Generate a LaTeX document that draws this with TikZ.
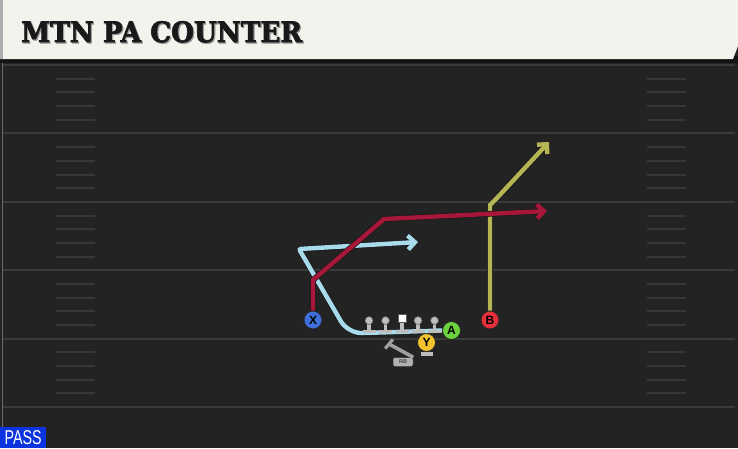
\documentclass[tikz,border=0pt]{standalone}
\usepackage{fontspec}
\setsansfont{Liberation Sans}
\newfontfamily\titlefont{DejaVu Serif}[FakeBold=2.5]
\usepackage{graphicx}
\usetikzlibrary{arrows.meta}

\definecolor{fieldbg}{HTML}{232323}
\definecolor{yardline}{HTML}{3B3B3B}
\definecolor{hashline}{HTML}{373737}
\definecolor{headbg}{HTML}{F4F2EC}
\definecolor{passblue}{HTML}{0B34E0}
\definecolor{xred}{HTML}{A6173A}
\definecolor{acyan}{HTML}{A8DCEC}
\definecolor{bolive}{HTML}{B5B653}
\definecolor{xblue}{HTML}{3F6FD8}
\definecolor{bred}{HTML}{E5303C}
\definecolor{agreen}{HTML}{6BD13C}
\definecolor{yyellow}{HTML}{F2C230}
\definecolor{olgray}{HTML}{BDBDBD}

\begin{document}
\begin{tikzpicture}[x=1pt,y=-1pt,
  player/.style={circle, draw=black!85, line width=0.8pt, minimum size=18pt,
    inner sep=0pt, font=\sffamily\bfseries\fontsize{12}{12}\selectfont},
  route/.style={line width=4.4pt, line join=miter,
    preaction={draw=black!90, line width=5.8pt},
    -{Straight Barb[length=7pt,width=14pt]}},
  lineman/.style={circle, fill=olgray, draw=gray!70!black, line width=0.5pt,
    minimum size=8pt, inner sep=0pt},
  block/.style={draw=olgray, line width=3.2pt},
  hashmark/.style={draw=hashline, line width=2pt},
]
  \useasboundingbox (0,0) rectangle (738,448);
  \fill[fieldbg] (0,0) rectangle (738,448);

  % field
  \foreach \yl in {65,133.4,201.8,270.2,338.6,407} {
    \draw[yardline, line width=2pt] (3,\yl) -- (735,\yl);
  }
  \foreach \yl in {65,133.4,201.8,270.2,338.6} {
    \foreach \k in {1,2,3,4} {
      \draw[hashmark] (56,\yl+13.7*\k) -- (95,\yl+13.7*\k);
      \draw[hashmark] (647,\yl+13.7*\k) -- (686,\yl+13.7*\k);
    }
  }
  \draw[black!70!fieldbg!60!white, line width=1pt] (2,63) -- (2,448);

  % header
  \fill[black!92] (0,56) rectangle (738,63);
  \fill[headbg] (0,0) -- (738,0) -- (738,46) -- (733,59) -- (0,59) -- cycle;
  \fill[gray!65] (0,0) rectangle (3,59);
  \node[anchor=south west, inner sep=0pt, text=gray!80] (titleshadow) at (22.2,43.9)
    {\resizebox{281pt}{21pt}{\titlefont\bfseries MTN PA COUNTER}};
  \node[anchor=south west, inner sep=0pt, text=black!90] (title) at (21,42.7)
    {\resizebox{281pt}{21pt}{\titlefont\bfseries MTN PA COUNTER}};

  % players
  \node[player, fill=xblue] (X) at (313,320) {X};
  \node[player, fill=bred] (B) at (490,320) {B};
  \node[player, fill=agreen] (A) at (451.5,330.5) {A};
  \node[player, fill=yyellow] (Y) at (426.5,342.5) {Y};

  % routes
  \coordinate (x1) at (313,280);
  \coordinate (x2) at (384,219);
  \coordinate (x3) at (547,211);
  \coordinate (a1) at (348,333.5);
  \coordinate (a2) at (299,249);
  \coordinate (a3) at (418,242);
  \coordinate (b1) at (490,205);
  \coordinate (b2) at (496,199);
  \coordinate (b3) at (549,142);

  \draw[route, draw=acyan] (A.west) [rounded corners=14pt] -- (a1)
    [rounded corners=2pt] -- (a2) -- (a3);
  \draw[route, draw=bolive] (B) -- (b1) -- (b2) -- (b3);
  \draw[route, draw=xred] (X) -- (x1) -- (x2) -- (x3);

  % line
  \foreach \lx/\ln in {369/lt, 385.5/lg, 418/rg, 434.5/rt} {
    \coordinate (\ln foot) at (\lx,331.5);
    \draw[block] (\lx,322) -- (\ln foot) ++(-6.5,0) -- ++(13,0);
    \node[lineman] (\ln) at (\lx,320.5) {};
  }
  \coordinate (cfoot) at (402,331.5);
  \draw[block] (402,320) -- (cfoot) ++(-6.5,0) -- ++(13,0);
  \node[fill=white, draw=gray!70!black, line width=0.5pt, minimum size=8.5pt,
    inner sep=0pt] (C) at (402,318) {};

  % Y block
  \coordinate (yfoot) at (426.5,354);
  \draw[block] (Y) -- (yfoot) ++(-6,0) -- ++(12,0);
  \node[player, fill=yyellow] (Y) at (426.5,342.5) {Y};
  \node[player, fill=agreen] (A) at (451.5,330.5) {A};

  % RB
  \node[fill=gray!60, draw=gray!40!black, line width=0.5pt, rounded corners=2pt,
    minimum width=20pt, minimum height=9pt, inner sep=0pt, text=black!75,
    font=\sffamily\bfseries\fontsize{5.5}{5.5}\selectfont] (RB) at (403,362) {RB};
  \coordinate (rbend) at (389,344);
  \coordinate (rbl) at (385.2,348.6);
  \coordinate (rbr) at (392.8,339.4);
  \draw[draw=gray!75, line width=3.6pt] (RB.north east) -- (rbend);
  \draw[draw=gray!75, line width=3.2pt] (rbl) -- (rbr);

  % tag
  \node[anchor=south west, fill=passblue, minimum width=46pt, minimum height=21pt,
    inner sep=0pt, text=white] (pass) at (0,448)
    {\resizebox{37pt}{14pt}{\sffamily PASS}};
\end{tikzpicture}
\end{document}
